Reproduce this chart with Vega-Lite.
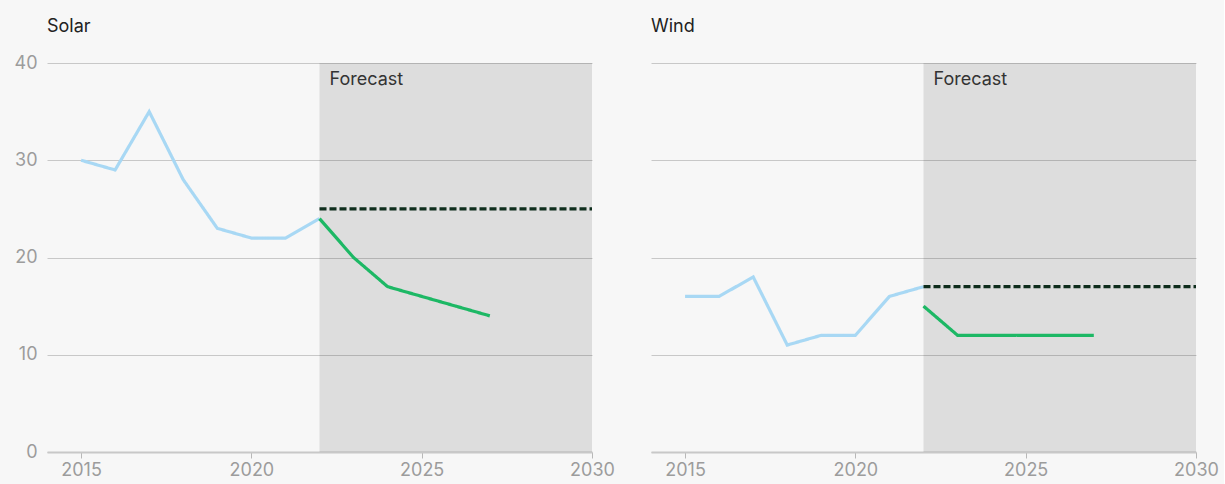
{
  "$schema": "https://vega.github.io/schema/vega-lite/v6.json",
  "background": "#f7f7f7",
  "padding": {"left": 14, "top": 18, "right": 5, "bottom": 8},
  "config": {
    "view": {"stroke": null},
    "font": "Inter",
    "axis": {"labelFont": "Inter", "labelFontSize": 18, "labelColor": "#9c9c9c", "titleFontSize": 0}
  },
  "data": {"values": [
    {"source": "Solar", "kind": "region", "start": 2022, "end": 2030, "lo": 0, "hi": 40, "label": "Forecast"},
    {"source": "Wind", "kind": "region", "start": 2022, "end": 2030, "lo": 0, "hi": 40, "label": "Forecast"},
    {"source": "Solar", "kind": "line", "series": "actual", "year": 2015, "value": 30},
    {"source": "Solar", "kind": "line", "series": "actual", "year": 2016, "value": 29},
    {"source": "Solar", "kind": "line", "series": "actual", "year": 2017, "value": 35},
    {"source": "Solar", "kind": "line", "series": "actual", "year": 2018, "value": 28},
    {"source": "Solar", "kind": "line", "series": "actual", "year": 2019, "value": 23},
    {"source": "Solar", "kind": "line", "series": "actual", "year": 2020, "value": 22},
    {"source": "Solar", "kind": "line", "series": "actual", "year": 2021, "value": 22},
    {"source": "Solar", "kind": "line", "series": "actual", "year": 2022, "value": 24},
    {"source": "Solar", "kind": "line", "series": "forecast", "year": 2022, "value": 24},
    {"source": "Solar", "kind": "line", "series": "forecast", "year": 2023, "value": 20},
    {"source": "Solar", "kind": "line", "series": "forecast", "year": 2024, "value": 17},
    {"source": "Solar", "kind": "line", "series": "forecast", "year": 2025, "value": 16},
    {"source": "Solar", "kind": "line", "series": "forecast", "year": 2026, "value": 15},
    {"source": "Solar", "kind": "line", "series": "forecast", "year": 2027, "value": 14},
    {"source": "Solar", "kind": "line", "series": "target", "year": 2022, "value": 25},
    {"source": "Solar", "kind": "line", "series": "target", "year": 2030, "value": 25},
    {"source": "Wind", "kind": "line", "series": "actual", "year": 2015, "value": 16},
    {"source": "Wind", "kind": "line", "series": "actual", "year": 2016, "value": 16},
    {"source": "Wind", "kind": "line", "series": "actual", "year": 2017, "value": 18},
    {"source": "Wind", "kind": "line", "series": "actual", "year": 2018, "value": 11},
    {"source": "Wind", "kind": "line", "series": "actual", "year": 2019, "value": 12},
    {"source": "Wind", "kind": "line", "series": "actual", "year": 2020, "value": 12},
    {"source": "Wind", "kind": "line", "series": "actual", "year": 2021, "value": 16},
    {"source": "Wind", "kind": "line", "series": "actual", "year": 2022, "value": 17},
    {"source": "Wind", "kind": "line", "series": "forecast", "year": 2022, "value": 15},
    {"source": "Wind", "kind": "line", "series": "forecast", "year": 2023, "value": 12},
    {"source": "Wind", "kind": "line", "series": "forecast", "year": 2024, "value": 12},
    {"source": "Wind", "kind": "line", "series": "forecast", "year": 2025, "value": 12},
    {"source": "Wind", "kind": "line", "series": "forecast", "year": 2026, "value": 12},
    {"source": "Wind", "kind": "line", "series": "forecast", "year": 2027, "value": 12},
    {"source": "Wind", "kind": "line", "series": "target", "year": 2022, "value": 17},
    {"source": "Wind", "kind": "line", "series": "target", "year": 2030, "value": 17}
  ]},
  "facet": {
    "column": {
      "field": "source", "type": "nominal", "sort": ["Solar", "Wind"], "title": null,
      "header": {"labelOrient": "top", "labelAnchor": "start", "labelAlign": "left", "labelFontSize": 18, "labelColor": "#222222", "labelFont": "Inter", "labelPadding": 27}
    }
  },
  "spacing": 52,
  "spec": {
    "width": 545,
    "height": 389,
    "layer": [
      {
        "transform": [{"filter": "datum.kind === 'region'"}],
        "mark": {"type": "rect", "color": "#000000", "opacity": 0.1},
        "encoding": {
          "x": {"field": "start", "type": "quantitative", "scale": {"domain": [2014, 2030], "nice": false, "zero": false},
            "axis": {"values": [2015, 2020, 2025, 2030], "format": "d", "grid": false, "tickSize": 6, "tickColor": "#b8b8b8", "domainColor": "#c8c8c8", "domainWidth": 2, "labelFlush": false, "labelPadding": 3, "title": null}},
          "x2": {"field": "end"},
          "y": {"field": "lo", "type": "quantitative", "scale": {"domain": [0, 40], "nice": false},
            "axis": {"values": [0, 10, 20, 30, 40], "grid": true, "gridColor": "#c8c8c8", "gridWidth": 1, "domain": false, "ticks": false, "labelPadding": 10, "title": null}},
          "y2": {"field": "hi"}
        }
      },
      {
        "transform": [{"filter": "datum.kind === 'region'"}],
        "mark": {"type": "text", "align": "left", "baseline": "middle", "dx": 10, "dy": 17, "fontSize": 18, "color": "#333333", "font": "Inter"},
        "encoding": {
          "x": {"field": "start", "type": "quantitative"},
          "y": {"field": "hi", "type": "quantitative"},
          "text": {"field": "label"}
        }
      },
      {
        "transform": [{"filter": "datum.kind === 'line'"}],
        "mark": {"type": "line", "strokeWidth": 3.2},
        "encoding": {
          "x": {"field": "year", "type": "quantitative"},
          "y": {"field": "value", "type": "quantitative"},
          "detail": {"field": "series"},
          "color": {"field": "series", "type": "nominal", "legend": null,
            "scale": {"domain": ["actual", "forecast", "target"], "range": ["#a8d8f4", "#1db865", "#0e2d1c"]}},
          "strokeDash": {"field": "series", "type": "nominal", "legend": null,
            "scale": {"domain": ["actual", "forecast", "target"], "range": [[1, 0], [1, 0], [7, 3]]}}
        }
      }
    ]
  }
}
